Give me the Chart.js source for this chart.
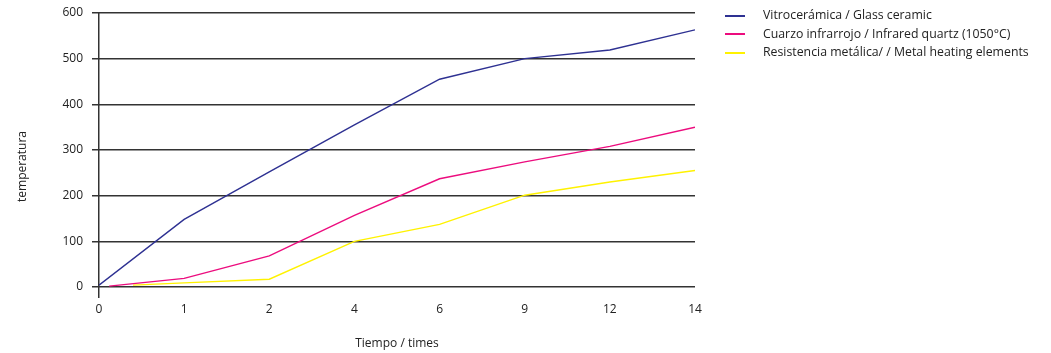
<!DOCTYPE html>
<html lang="es">
<head>
    <meta charset="UTF-8">
    <title>Temperatura</title>
    <style>
        body { margin: 0; background: #fff; }
        #wrap { position: relative; width: 1051px; height: 353px; }
        #legend { position: absolute; left: 725px; top: 5px; font: 12.3px "Open Sans", sans-serif; color: #222; }
        .row { height: 18.7px; line-height: 19px; white-space: nowrap; }
        .swatch { display: inline-block; width: 20px; height: 2px; vertical-align: middle; margin-right: 18px; }
        #ytitle { position: absolute; left: 14px; top: 131px; writing-mode: vertical-rl; transform: rotate(180deg);
                  font: 12px "Open Sans", sans-serif; line-height: 16px; color: #222; white-space: nowrap; }
    </style>
</head>
<body>
    <div id="wrap">
        <canvas id="chart" width="1051" height="353"></canvas>
        <div id="legend"></div>
        <div id="ytitle">temperatura</div>
    </div>

    <script src="https://cdn.jsdelivr.net/npm/chart.js"></script>
    <script>
        // x axis categories (evenly spaced on the picture)
        const xLabels = ["0", "1", "2", "4", "6", "9", "12", "14"]

        // series: x is position along the category axis, y is temperature
        const glassX = [0, 1, 2, 3, 4, 5, 6, 7]
        const glassY = [4, 148, 252, 355, 455, 500, 519, 563]

        const quartzX = [0.12, 1, 2, 3, 4, 5, 6, 7]
        const quartzY = [2, 19, 68, 157, 237, 274, 308, 350]

        const metalX = [0.4, 1, 2, 3, 4, 5, 6, 7]
        const metalY = [4, 9, 17, 100, 137, 201, 230, 255]

        const seriesNames = [
            "Vitrocerámica / Glass ceramic",
            "Cuarzo infrarrojo / Infrared quartz (1050°C)",
            "Resistencia metálica/ / Metal heating elements"
        ]
        const colors = ["#2e3192", "#ec0c7e", "#fff200"]

        function pts(xs, ys) {
            return xs.map(function (x, i) { return { x: x, y: ys[i] } })
        }

        const font = { family: "'Open Sans', sans-serif", size: 12 }

        const config = {
            type: 'line',
            data: {
                datasets: [
                    { label: seriesNames[0], data: pts(glassX, glassY) },
                    { label: seriesNames[1], data: pts(quartzX, quartzY) },
                    { label: seriesNames[2], data: pts(metalX, metalY) }
                ].map(function (d, i) {
                    d.borderColor = colors[i]
                    d.backgroundColor = colors[i]
                    d.borderWidth = 1.4
                    d.pointRadius = 0
                    d.tension = 0
                    return d
                })
            },
            options: {
                responsive: false,
                animation: false,
                layout: { padding: { top: 13, right: 356, left: 0, bottom: 0 } },
                plugins: { legend: { display: false }, tooltip: { enabled: false } },
                scales: {
                    x: {
                        type: 'linear',
                        min: 0,
                        max: 7,
                        afterFit: function (s) { s.height = 66 },
                        ticks: {
                            stepSize: 1,
                            color: '#222',
                            font: font,
                            padding: 4,
                            callback: function (v) { return xLabels[v] }
                        },
                        grid: {
                            tickLength: 11,
                            lineWidth: 1.5,
                            color: function (c) { return c.tick && c.tick.value === 0 ? '#333' : 'rgba(0,0,0,0)' }
                        },
                        border: { display: false },
                        title: { display: true, text: 'Tiempo / times', color: '#222', font: font, padding: { top: 0, bottom: 2 } }
                    },
                    y: {
                        min: 0,
                        max: 600,
                        afterFit: function (s) { s.width = 99; s.paddingTop = 0; s.paddingBottom = 0 },
                        ticks: { stepSize: 100, color: '#222', font: font, padding: 9 },
                        grid: { color: '#333', lineWidth: 1.5, tickLength: 7 },
                        border: { display: false }
                    }
                }
            }
        }

        new Chart(document.getElementById('chart'), config)

        const legend = document.getElementById('legend')
        seriesNames.forEach(function (name, i) {
            const row = document.createElement('div')
            row.className = 'row'
            row.innerHTML = '<span class="swatch" style="background:' + colors[i] + '"></span>' + name
            legend.appendChild(row)
        })
    </script>
</body>
</html>
